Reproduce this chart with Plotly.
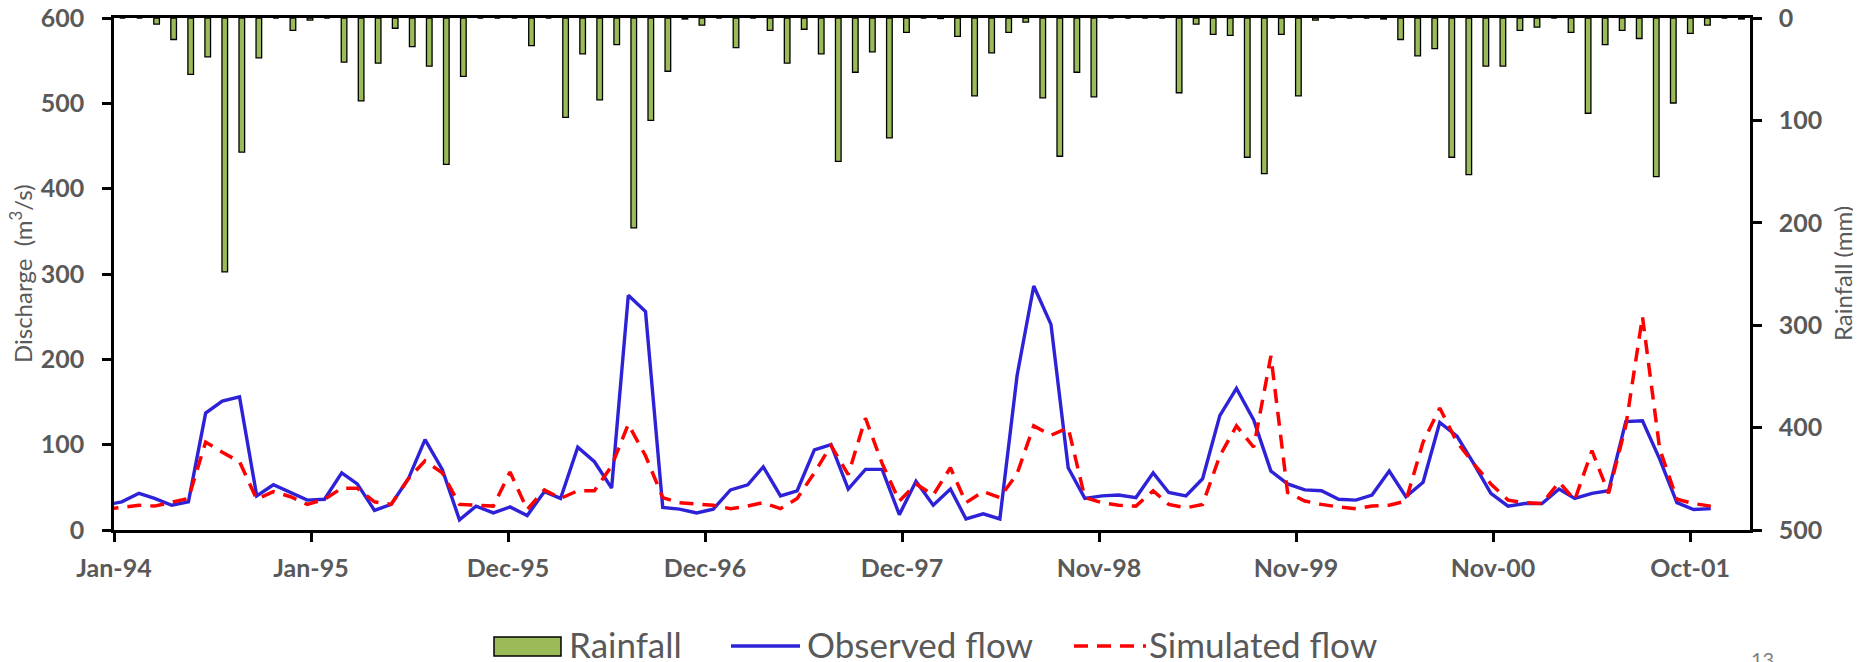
import plotly.graph_objects as go
import pandas as pd

# ---------------- data ----------------
# monthly records, Dec-1993 .. Nov-2001 (96 months)
months = [f"{1993 + (11 + i) // 12}-{(11 + i) % 12 + 1:02d}-15" for i in range(96)]

rainfall = [0, 0, 6, 21, 55, 38, 248, 131, 39, 0, 12, 2, 0, 43, 81, 44, 10, 28, 47, 143,
            57, 0, 0, 0, 27, 0, 97, 35, 80, 26, 205, 100, 52, 1, 7, 0, 29, 0, 12, 44,
            11, 35, 140, 53, 33, 117, 14, 0, 0.5, 18, 76, 34, 14, 4, 78, 135, 53, 77, 0, 0,
            0, 0, 73, 6, 16, 17, 136, 152, 16, 76, 2, 0, 0, 0, 1, 21, 37, 30, 136, 153,
            47, 47, 12, 9, 0, 14, 93, 26, 12, 20, 155, 83, 15, 7, 0, 1]

observed = [29, 33, 43, 37, 29, 33, 137, 151, 156, 40, 53, 44, 35, 36, 67, 54, 23, 30, 60, 106,
            71, 12, 28, 20, 27, 17, 45, 37, 97, 80, 49, 275, 256, 26.5, 24.5, 20, 24.5, 47, 53, 74,
            40, 46, 94, 100, 48, 71, 71, 18, 57, 29, 48, 13, 19, 13, 181, 286, 241, 73, 37, 40,
            41, 38, 67, 44, 40, 60, 134, 166, 129, 69, 54, 47, 46, 36, 35, 41, 69, 39, 56, 126,
            110, 77, 43, 28, 31, 31, 48, 37, 43, 46, 127, 128, 83, 32, 24, 25]

simulated = [24, 26, 29, 28, 33, 37, 103, 91, 80, 36, 45, 39, 30, 36, 49, 49, 33, 30, 60, 81,
             67, 30, 29, 28, 68, 24, 47, 37, 46, 46, 75, 124, 87, 38, 32, 30, 29, 25, 28, 32,
             25, 37, 67, 99, 65, 131, 78, 34, 54, 41, 73, 32, 45, 38, 66, 122, 111, 120, 38, 32,
             29, 28, 46, 30, 26, 30, 87, 122, 97, 204, 44, 34, 30, 27, 25, 28, 29, 34, 103, 143,
             103, 77, 54, 35, 32, 31, 56, 35, 93, 43, 122, 250, 95, 36, 31, 28]

tick_labels = ["Jan-94", "Jan-95", "Dec-95", "Dec-96", "Dec-97", "Nov-98", "Nov-99", "Nov-00", "Oct-01"]

# ---------------- styling ----------------
GRAY = "#595959"
FONT = "Lato"
BODY = 8                      # default page margin of the html body
PAGE_W, PAGE_H = 1861, 662
PL, PR, PT, PB = 114, 1750, 18, 530     # plot area in page pixels
PW, PH = PR - PL, PB - PT
W, H = PAGE_W - BODY, PAGE_H - BODY
ML, MT = PL - BODY, PT - BODY
MR, MB = W - ML - PW, H - MT - PH

axis_start = pd.Timestamp("1994-01-01")
axis_end = axis_start + pd.Timedelta(days=2945.6)
tick_vals = [(axis_start + pd.Timedelta(days=354.7 * k)).strftime("%Y-%m-%d %H:%M:%S") for k in range(len(tick_labels))]


def px_x(px):
    return (px - PL) / PW


def px_y(py):
    return (PB - py) / PH


fig = go.Figure()

fig.add_trace(go.Bar(
    x=months, y=rainfall, xaxis="x2", yaxis="y2", name="Rainfall",
    marker=dict(color="#9BBB59", line=dict(color="black", width=1.3)),
    width=0.33, showlegend=False,
))
fig.add_trace(go.Scatter(
    x=months, y=observed, mode="lines", name="Observed flow",
    line=dict(color="#2E22D8", width=3.4), showlegend=False,
))
fig.add_trace(go.Scatter(
    x=months, y=simulated, mode="lines", name="Simulated flow",
    line=dict(color="#FF0000", width=3.5, dash="14px,9px"), showlegend=False,
))

tickfont = dict(family=FONT, size=25, color=GRAY, weight="bold")
common = dict(ticks="outside", ticklen=9, tickwidth=2.5, tickcolor="black",
              showline=True, linecolor="black", linewidth=2.5,
              showgrid=False, zeroline=False, tickfont=tickfont,
              automargin=False, ticklabeloverflow="allow")

fig.update_layout(
    template="none",
    width=W, height=H,
    margin=dict(l=ML, r=MR, t=MT, b=MB, pad=0, autoexpand=False),
    paper_bgcolor="white", plot_bgcolor="white",
    showlegend=False,
    xaxis=dict(
        type="date", range=[axis_start.strftime("%Y-%m-%d"), axis_end.strftime("%Y-%m-%d %H:%M:%S")],
        tickmode="array", tickvals=tick_vals, ticktext=tick_labels,
        mirror=True, ticklabelstandoff=5, anchor="y", **common,
    ),
    xaxis2=dict(
        type="category", overlaying="x", range=[-0.5, 95.5], visible=False, anchor="y2",
        automargin=False,
    ),
    yaxis=dict(
        range=[0, 600], tickmode="linear", tick0=0, dtick=100,
        ticklabelstandoff=13, **common,
    ),
    yaxis2=dict(
        overlaying="y", side="right", anchor="x", range=[500, 0], tickmode="linear", tick0=0, dtick=100,
        ticklabelstandoff=12, **common,
    ),
)

ann = []
ann.append(dict(text="Discharge  (m<sup>3</sup>/s)", x=px_x(21), y=0.5, xref="paper", yref="paper",
                textangle=-90, showarrow=False, xanchor="center", yanchor="middle",
                font=dict(family=FONT, size=24, color=GRAY)))
ann.append(dict(text="Rainfall (mm)", x=px_x(1842), y=0.5, xref="paper", yref="paper",
                textangle=-90, showarrow=False, xanchor="center", yanchor="middle",
                font=dict(family=FONT, size=24, color=GRAY)))

# legend (drawn below the plot)
leg_y = 646
legfont = dict(family=FONT, size=35, color=GRAY)
shapes = [
    dict(type="rect", xref="paper", yref="paper", x0=px_x(494), x1=px_x(561), y0=px_y(656), y1=px_y(637),
         fillcolor="#9BBB59", line=dict(color="black", width=1.5)),
    dict(type="line", xref="paper", yref="paper", x0=px_x(731), x1=px_x(800), y0=px_y(leg_y), y1=px_y(leg_y),
         line=dict(color="#2E22D8", width=3.4)),
    dict(type="line", xref="paper", yref="paper", x0=px_x(1074), x1=px_x(1146), y0=px_y(leg_y), y1=px_y(leg_y),
         line=dict(color="#FF0000", width=3.5, dash="14px,9px")),
]
for txt, xl in [("Rainfall", 567), ("Observed flow", 805), ("Simulated flow", 1147)]:
    ann.append(dict(text=txt, x=px_x(xl), y=px_y(leg_y - 2), xref="paper", yref="paper", showarrow=False,
                    xanchor="left", yanchor="middle", font=legfont))

ann.append(dict(text="13", x=px_x(1762), y=px_y(645), xref="paper", yref="paper", showarrow=False,
                xanchor="center", yanchor="top", font=dict(family=FONT, size=20, color="#7f7f7f")))

fig.update_layout(annotations=ann, shapes=shapes)

fig.write_html("out.html")
